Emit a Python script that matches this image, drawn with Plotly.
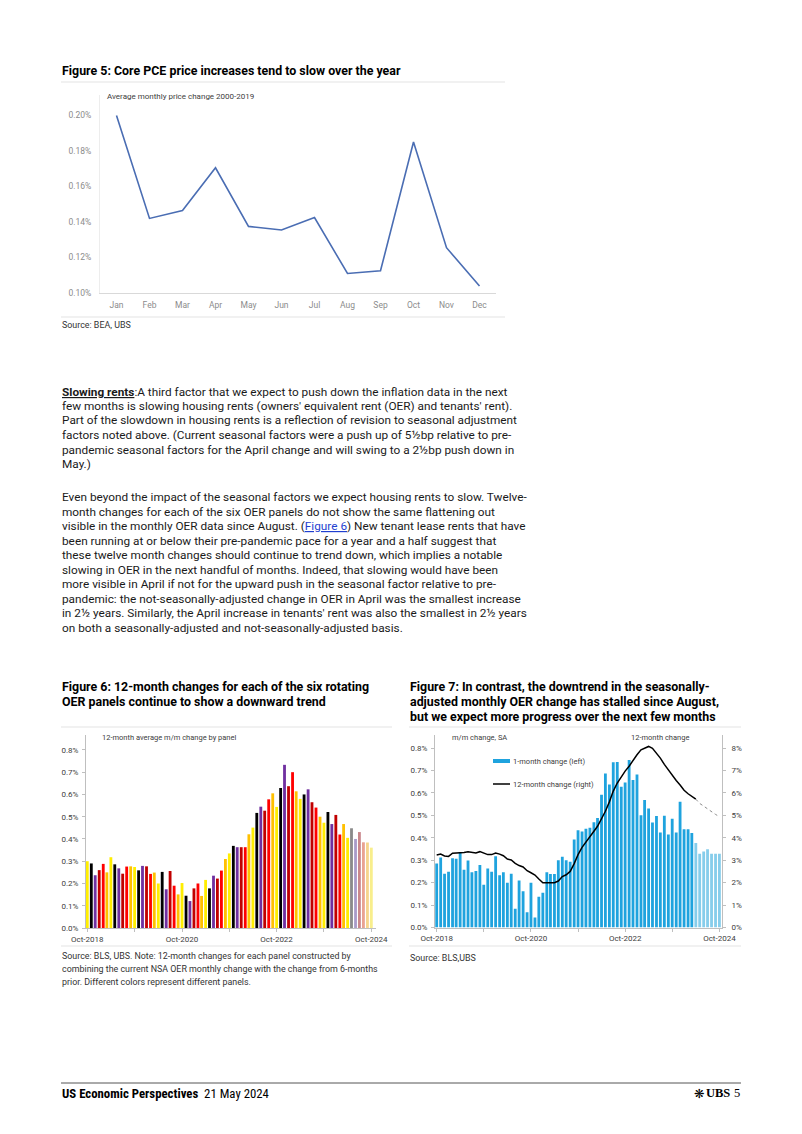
import plotly.graph_objects as go
import pandas as pd

W, H = 802, 1134

# ---------------- data ----------------
pce_months = ["Jan", "Feb", "Mar", "Apr", "May", "Jun", "Jul", "Aug", "Sep", "Oct", "Nov", "Dec"]
pce_avg_change = [0.200, 0.142, 0.1465, 0.1705, 0.1375, 0.1355, 0.1425, 0.111, 0.1125, 0.185, 0.1255, 0.104]
pce_ticks = [0.10, 0.12, 0.14, 0.16, 0.18, 0.20]

panel_months = pd.date_range("2018-10-01", periods=73, freq="MS")
panel_change = [0.30, 0.29, 0.237, 0.26, 0.288, 0.25, 0.318, 0.286, 0.268, 0.244,
                0.276, 0.277, 0.274, 0.259, 0.279, 0.277, 0.243, 0.249, 0.20, 0.252,
                0.174, 0.256, 0.19, 0.151, 0.202, 0.145, 0.121, 0.178, 0.20, 0.144,
                0.216, 0.178, 0.235, 0.222, 0.258, 0.31, 0.335, 0.369, 0.363, 0.363,
                0.363, 0.421, 0.451, 0.517, 0.545, 0.527, 0.578, 0.605, 0.544, 0.629,
                0.733, 0.637, 0.70, 0.614, 0.58, 0.60, 0.623, 0.565, 0.541, 0.50,
                0.473, 0.521, 0.467, 0.508, 0.42, 0.467, 0.405, 0.448, 0.40, 0.431,
                0.385, 0.384, 0.361]
panel_actual_count = 67

oer_months = pd.date_range("2018-10-01", periods=73, freq="MS")
oer_mm = [0.285, 0.312, 0.24, 0.249, 0.309, 0.306, 0.336, 0.257, 0.299, 0.246,
          0.252, 0.279, 0.19, 0.263, 0.248, 0.318, 0.233, 0.246, 0.20, 0.24,
          0.084, 0.209, 0.162, 0.068, 0.20, 0.045, 0.137, 0.155, 0.246, 0.239,
          0.239, 0.30, 0.315, 0.30, 0.293, 0.392, 0.433, 0.428, 0.44, 0.445,
          0.469, 0.488, 0.592, 0.686, 0.637, 0.736, 0.738, 0.627, 0.646, 0.747,
          0.657, 0.682, 0.50, 0.568, 0.53, 0.468, 0.497, 0.423, 0.498, 0.414,
          0.485, 0.423, 0.56, 0.438, 0.438, 0.421, 0.377, 0.329, 0.339, 0.349,
          0.329, 0.329, 0.329]
oer_mm_actual_count = 66
oer_yoy = [3.23, 3.27, 3.19, 3.17, 3.31, 3.32, 3.32, 3.34, 3.38, 3.35,
           3.32, 3.38, 3.31, 3.25, 3.25, 3.32, 3.27, 3.20, 3.05, 3.01,
           2.86, 2.76, 2.70, 2.53, 2.44, 2.34, 2.16, 1.99, 1.99, 1.99,
           2.00, 2.07, 2.27, 2.35, 2.50, 2.85, 3.25, 3.57, 3.82, 4.05,
           4.29, 4.51, 4.82, 5.18, 5.60, 6.08, 6.44, 6.74, 6.97, 7.19,
           7.45, 7.70, 7.92, 8.00, 8.07, 7.99, 7.78, 7.55, 7.27, 7.02,
           6.80, 6.55, 6.35, 6.12, 5.96, 5.86, 5.72, 5.53, 5.41, 5.28,
           5.16, 5.04, 4.94]
oer_yoy_actual_count = 67

date_ticks = ["2018-10-01", "2019-10-01", "2020-10-01", "2021-10-01",
              "2022-10-01", "2023-10-01", "2024-10-01"]
date_tick_text = ["Oct-2018", "", "Oct-2020", "", "Oct-2022", "", "Oct-2024"]
mm_ticks = [0.0, 0.1, 0.2, 0.3, 0.4, 0.5, 0.6, 0.7, 0.8]
yoy_ticks = [0, 1, 2, 3, 4, 5, 6, 7, 8]

# ---------------- styles ----------------
BODY = "Roboto, 'Liberation Sans', sans-serif"
NARROW = "'Liberation Sans Narrow', 'Roboto Condensed', Roboto, sans-serif"
panel_colors = ["#FFEE00", "#000000", "#7030A0", "#C00000", "#FF0000", "#FFC000"]
panel_faded = ["#F8EE8C", "#8A8A8A", "#A99BC8", "#C9878B", "#E9A292", "#F6D48C"]
BLUE = "#1FA3DE"
BLUE_LIGHT = "#86CDEB"


def fx(x):
    return x / W


def fy(y):
    return 1 - y / H


bar6_colors = [(panel_colors if i < panel_actual_count else panel_faded)[i % 6]
               for i in range(len(panel_change))]
bar7_colors = [BLUE if i < oer_mm_actual_count else BLUE_LIGHT for i in range(len(oer_mm))]

fig = go.Figure()
fig.add_trace(go.Scatter(x=pce_months, y=pce_avg_change, mode="lines",
                         line=dict(color="#4A6DB3", width=1.6), xaxis="x", yaxis="y",
                         showlegend=False, hoverinfo="skip"))
fig.add_trace(go.Bar(x=panel_months, y=panel_change, marker=dict(color=bar6_colors, line=dict(width=0)),
                     xaxis="x2", yaxis="y2", showlegend=False))
fig.add_trace(go.Bar(x=oer_months, y=oer_mm, marker=dict(color=bar7_colors, line=dict(width=0)),
                     xaxis="x3", yaxis="y3", showlegend=False))
fig.add_trace(go.Scatter(x=oer_months[:oer_yoy_actual_count], y=oer_yoy[:oer_yoy_actual_count],
                         mode="lines", line=dict(color="#000000", width=1.5),
                         xaxis="x3", yaxis="y4", showlegend=False))
fig.add_trace(go.Scatter(x=oer_months[oer_yoy_actual_count - 1:], y=oer_yoy[oer_yoy_actual_count - 1:],
                         mode="lines", line=dict(color="#8C8C8C", width=1, dash="dot"),
                         xaxis="x3", yaxis="y4", showlegend=False))

tickfont = dict(family=BODY, size=8, color="#404040")
grey_tickfont = dict(family=BODY, size=8.5, color="#8C8C8C")
common = dict(automargin=False, showgrid=False)

fig.update_layout(
    width=W, height=H, autosize=False,
    margin=dict(l=0, r=0, t=0, b=0, pad=0, autoexpand=False),
    paper_bgcolor="white", plot_bgcolor="white", showlegend=False,
    bargap=0.22,
    xaxis=dict(domain=[fx(100), fx(496)], anchor="y", type="category", range=[-0.5, 11.5],
               showline=True, linecolor="#D9D9D9", linewidth=1, ticks="",
               tickfont=grey_tickfont, ticklabelstandoff=4, **common),
    yaxis=dict(domain=[fy(293), fy(95)], anchor="x", range=[0.10, 0.2115],
               tickvals=pce_ticks, ticktext=[f"{v:.2f}%" for v in pce_ticks],
               showline=True, linecolor="#EDEDED", linewidth=1, ticks="",
               zeroline=False, tickfont=grey_tickfont, ticklabelstandoff=6, **common),
    xaxis2=dict(domain=[fx(86), fx(376)], anchor="y2", type="date",
                range=["2018-09-21", "2024-11-06"], tickvals=date_ticks, ticktext=date_tick_text,
                showline=True, linecolor="#BFBFBF", ticks="outside", ticklen=3, tickcolor="#BFBFBF",
                tickfont=tickfont, ticklabelstandoff=0, **common),
    yaxis2=dict(domain=[fy(928), fy(735)], anchor="x2", range=[0, 0.867],
                tickvals=mm_ticks, ticktext=[f"{v:.1f}%" for v in mm_ticks],
                showline=True, linecolor="#BFBFBF", ticks="outside", ticklen=3, tickcolor="#BFBFBF",
                zeroline=False, tickfont=tickfont, ticklabelstandoff=2, **common),
    xaxis3=dict(domain=[fx(435), fx(722)], anchor="y3", type="date",
                range=["2018-09-18", "2024-10-21"], tickvals=date_ticks, ticktext=date_tick_text,
                showline=True, linecolor="#BFBFBF", ticks="outside", ticklen=3, tickcolor="#BFBFBF",
                tickfont=tickfont, ticklabelstandoff=0, **common),
    yaxis3=dict(domain=[fy(927.5), fy(735)], anchor="x3", range=[0, 0.858],
                tickvals=mm_ticks, ticktext=[f"{v:.1f}%" for v in mm_ticks],
                showline=True, linecolor="#BFBFBF", ticks="outside", ticklen=3, tickcolor="#BFBFBF",
                zeroline=False, tickfont=tickfont, ticklabelstandoff=2, **common),
    yaxis4=dict(overlaying="y3", side="right", anchor="x3", range=[0, 8.58],
                tickvals=yoy_ticks, ticktext=[f"{v}%" for v in yoy_ticks],
                showline=True, linecolor="#BFBFBF", ticks="outside", ticklen=3, tickcolor="#BFBFBF",
                zeroline=False, tickfont=tickfont, ticklabelstandoff=4, **common),
)

ann = []


def txt(x, y, s, size=11.8, color="#1A1A1A", family=BODY, xanchor="left"):
    ann.append(dict(x=fx(x), y=fy(y), xref="paper", yref="paper", text=s, showarrow=False,
                    xanchor=xanchor, yanchor="middle", align="left", borderpad=0,
                    font=dict(size=size, color=color, family=family)))


TITLE = 12.4
SRC = 8.9
# Figure 5
txt(61, 70, "<b>Figure 5: Core PCE price increases tend to slow over the year</b>", size=TITLE, color="#000")
txt(106, 97, "Average monthly price change 2000-2019", size=8, color="#404040")
txt(61, 325, "Source: BEA, UBS", size=SRC, color="#333")

# Body text
p1 = [
    "<b><u>Slowing rents</u></b>:A third factor that we expect to push down the inflation data in the next",
    "few months is slowing housing rents (owners' equivalent rent (OER) and tenants' rent).",
    "Part of the slowdown in housing rents is a reflection of revision to seasonal adjustment",
    "factors noted above. (Current seasonal factors were a push up of 5½bp relative to pre-",
    "pandemic seasonal factors for the April change and will swing to a 2½bp push down in",
    "May.)",
]
p2 = [
    "Even beyond the impact of the seasonal factors we expect housing rents to slow. Twelve-",
    "month changes for each of the six OER panels do not show the same flattening out",
    "visible in the monthly OER data since August. (<span style='color:#1F3FD0'><u>Figure 6</u></span>) New tenant lease rents that have",
    "been running at or below their pre-pandemic pace for a year and a half suggest that",
    "these twelve month changes should continue to trend down, which implies a notable",
    "slowing in OER in the next handful of months. Indeed, that slowing would have been",
    "more visible in April if not for the upward push in the seasonal factor relative to pre-",
    "pandemic: the not-seasonally-adjusted change in OER in April was the smallest increase",
    "in 2½ years. Similarly, the April increase in tenants' rent was also the smallest in 2½ years",
    "on both a seasonally-adjusted and not-seasonally-adjusted basis.",
]
for i, s in enumerate(p1):
    txt(61, 391.5 + i * 14.5, s)
for i, s in enumerate(p2):
    txt(61, 497 + i * 14.5, s)

# Figure 6
txt(61, 686.5, "<b>Figure 6: 12-month changes for each of the six rotating</b>", size=TITLE, color="#000")
txt(61, 701.5, "<b>OER panels continue to show a downward trend</b>", size=TITLE, color="#000")
txt(101, 737, "12-month average m/m change by panel", size=7.5, color="#404040")
txt(61, 956, "Source: BLS, UBS. Note: 12-month changes for each panel constructed by", size=SRC, color="#333")
txt(61, 969, "combining the current NSA OER monthly change with the change from 6-months", size=SRC, color="#333")
txt(61, 982, "prior. Different colors represent different panels.", size=SRC, color="#333")

# Figure 7
txt(409, 686.5, "<b>Figure 7: In contrast, the downtrend in the seasonally-</b>", size=TITLE, color="#000")
txt(409, 701.5, "<b>adjusted monthly OER change has stalled since August,</b>", size=TITLE, color="#000")
txt(409, 716.5, "<b>but we expect more progress over the next few months</b>", size=TITLE, color="#000")
txt(451, 737, "m/m change, SA", size=7.5, color="#404040")
txt(630, 737, "12-month change", size=7.5, color="#404040")
txt(512, 761, "1-month change (left)", size=7.5, color="#404040")
txt(512, 784, "12-month change (right)", size=7.5, color="#404040")
txt(409, 958, "Source: BLS,UBS", size=SRC, color="#333")

# Footer
txt(61, 1093, "<b>US Economic Perspectives</b>  21 May 2024", size=12.8, color="#000", family=NARROW)
txt(741, 1093, "5", size=12.5, color="#000", family="'Liberation Serif', serif", xanchor="right")
txt(731, 1093, "<b>UBS</b>", size=12.5, color="#000", family="'Liberation Serif', serif", xanchor="right")
txt(705, 1093, "❋", size=12.5, color="#000", family="'DejaVu Sans', sans-serif", xanchor="right")

fig.update_layout(annotations=ann)

shapes = []


def hline(x0, x1, y, color="#E3E3E3", width=1):
    shapes.append(dict(type="line", xref="paper", yref="paper", x0=fx(x0), x1=fx(x1),
                       y0=fy(y), y1=fy(y), line=dict(color=color, width=width)))


hline(61, 505, 82)
hline(61, 505, 317)
hline(61, 392, 727)
hline(61, 392, 946)
hline(409, 741, 727)
hline(409, 741, 946)
hline(61, 741, 1083, color="#555555", width=1)
# legend swatches for figure 7
shapes.append(dict(type="rect", xref="paper", yref="paper", x0=fx(493), x1=fx(510),
                   y0=fy(763), y1=fy(759), fillcolor=BLUE, line=dict(width=0)))
hline(493, 510, 784, color="#000000", width=1.5)
fig.update_layout(shapes=shapes)

fig.write_html("out.html", config={"displayModeBar": False, "staticPlot": True},
               post_script="document.body.style.margin='0';document.body.style.overflow='hidden';")
